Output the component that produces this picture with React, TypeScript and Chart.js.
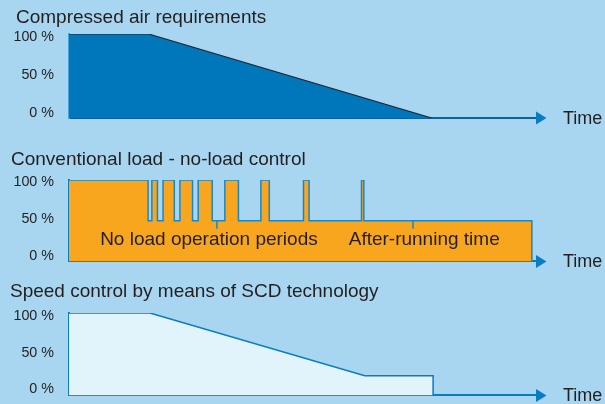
import React, { useEffect, useRef } from "react";
import { Chart, registerables } from "chart.js";

Chart.register(...registerables);

// ---- data (time in arbitrary units 0..100, load in %) ----
const yTicks = [0, 50, 100];

const airTimes = [0, 17, 77.5];
const airLoad = [100, 100, 0];

const convTimes = [0, 16.9, 17.7, 18.9, 20.1, 22.5, 23.7, 26.4, 27.6, 30.6, 33.3, 36.2, 41.0, 42.8, 50.1, 51.3, 62.5, 63.0, 98.9];
const convLoad = [100, 50, 100, 50, 100, 50, 100, 50, 100, 50, 100, 50, 100, 50, 100, 50, 100, 50, 0];
const convMarkTimes = [31.6, 73.5];
const convMarkLoad = [45, 45];
const convLabels = ["No load operation periods", "After-running time"];
const convLabelTimes = [29.9, 75.9];
const convLabelLoad = [27, 27];

const scdTimes = [0, 17.3, 63.2, 77.8, 77.8];
const scdLoad = [100, 100, 24, 24, 0];

const titles = [
  "Compressed air requirements",
  "Conventional load - no-load control",
  "Speed control by means of SCD technology",
];
const axisLabel = "Time";

const FONT = '"Liberation Sans", Arial, Helvetica, sans-serif';
const TEXT = "#231f20";
const BG = "#a8d5f0";

function pts(xs: number[], ys: number[]) {
  return xs.map((x, i) => ({ x, y: ys[i] }));
}

type PanelCfg = {
  title: string;
  titleX: number;
  titleY: number;
  padTop: number;
  padBottom: number;
  labelMin: number;
  labelMax: number;
  datasets: any[];
  xBorder: string;
  yBorder: string;
  arrow: string;
  labels?: { text: string; x: number; y: number }[];
};

function Panel({ cfg, top, height }: { cfg: PanelCfg; top: number; height: number }) {
  const ref = useRef<HTMLCanvasElement>(null);
  useEffect(() => {
    const plugin = {
      id: "decor",
      afterDraw(chart: any) {
        const ctx = chart.ctx;
        const area = chart.chartArea;
        ctx.save();
        // title
        ctx.fillStyle = TEXT;
        ctx.font = `19px ${FONT}`;
        ctx.textBaseline = "middle";
        ctx.textAlign = "left";
        ctx.fillText(cfg.title, cfg.titleX, cfg.titleY);
        // arrow
        const yb = area.bottom;
        ctx.fillStyle = cfg.arrow;
        ctx.beginPath();
        ctx.moveTo(area.right - 1, yb - 6.5);
        ctx.lineTo(area.right + 9.5, yb);
        ctx.lineTo(area.right - 1, yb + 6.5);
        ctx.closePath();
        ctx.fill();
        // Time
        ctx.fillStyle = TEXT;
        ctx.font = `18px ${FONT}`;
        ctx.fillText(axisLabel, area.right + 26, yb + 1);
        // in-chart labels
        if (cfg.labels) {
          const xs = chart.scales.x;
          const ys = chart.scales.y;
          ctx.textAlign = "center";
          ctx.font = `19px ${FONT}`;
          for (const l of cfg.labels) {
            ctx.fillText(l.text, xs.getPixelForValue(l.x), ys.getPixelForValue(l.y));
          }
        }
        ctx.restore();
      },
    };
    const chart = new Chart(ref.current as HTMLCanvasElement, {
      type: "line",
      data: { datasets: cfg.datasets },
      options: {
        animation: false,
        responsive: true,
        maintainAspectRatio: false,
        layout: { padding: { left: 0, right: 68, top: cfg.padTop, bottom: cfg.padBottom } },
        plugins: { legend: { display: false }, tooltip: { enabled: false }, title: { display: false } },
        scales: {
          x: {
            type: "linear",
            min: 0,
            max: 100,
            z: 1,
            ticks: { display: false },
            grid: { display: false, drawTicks: false },
            border: { display: true, color: cfg.xBorder, width: 2 },
            afterFit: (s: any) => { s.height = 0; },
          },
          y: {
            min: 0,
            max: 100,
            z: 1,
            position: "left",
            ticks: { display: false, padding: 0 },
            grid: { display: false, drawTicks: false },
            border: { display: true, color: cfg.yBorder, width: 2 },
            afterFit: (s: any) => { s.width = 0; },
          },
          yLabels: {
            min: cfg.labelMin,
            max: cfg.labelMax,
            position: "left",
            afterBuildTicks: (s: any) => { s.ticks = yTicks.map((v) => ({ value: v })); },
            ticks: {
              callback: (v: any) => `${v} %`,
              color: TEXT,
              font: { family: FONT, size: 14.3 },
              padding: 0,
            },
            grid: {
              display: true,
              drawOnChartArea: false,
              drawTicks: true,
              tickLength: 15,
              color: "rgba(0,0,0,0)",
            },
            border: { display: false },
            afterFit: (s: any) => { s.width = 69; },
          },
        },
      },
      plugins: [plugin],
    } as any);
    return () => chart.destroy();
  }, []);
  return (
    <div style={{ position: "absolute", left: 0, top, width: 605, height }}>
      <canvas ref={ref} />
    </div>
  );
}

export default function App() {
  const p1: PanelCfg = {
    title: titles[0],
    titleX: 16,
    titleY: 18,
    padTop: 34,
    padBottom: 16,
    labelMin: -6.6,
    labelMax: 104.7,
    xBorder: "#0b64a2",
    yBorder: "#4aa3dc",
    arrow: "#0a7cc4",
    datasets: [
      {
        data: pts(airTimes, airLoad),
        borderColor: "#1d2733",
        borderWidth: 1.2,
        backgroundColor: "#0077bb",
        fill: "origin",
        pointRadius: 0,
        tension: 0,
      },
    ],
  };
  const p2: PanelCfg = {
    title: titles[1],
    titleX: 11,
    titleY: 26,
    padTop: 46,
    padBottom: 7,
    labelMin: -7.7,
    labelMax: 102.3,
    xBorder: "#0a7cc4",
    yBorder: "#0a7cc4",
    arrow: "#0a7cc4",
    labels: convLabels.map((t, i) => ({ text: t, x: convLabelTimes[i], y: convLabelLoad[i] })),
    datasets: [
      {
        type: "scatter",
        data: pts(convMarkTimes, convMarkLoad),
        pointStyle: "line",
        rotation: 90,
        radius: 4,
        borderColor: "#1a86c8",
        borderWidth: 1.5,
        showLine: false,
      },
      {
        data: pts(convTimes, convLoad),
        stepped: "before",
        borderColor: "#1a86c8",
        borderWidth: 1.5,
        backgroundColor: "#f7a61e",
        fill: "origin",
        pointRadius: 0,
      },
    ],
  };
  const p3: PanelCfg = {
    title: titles[2],
    titleX: 10,
    titleY: 22,
    padTop: 43,
    padBottom: 7,
    labelMin: -8.5,
    labelMax: 104.5,
    xBorder: "#0a7cc4",
    yBorder: "#0a7cc4",
    arrow: "#0a7cc4",
    datasets: [
      {
        data: pts(scdTimes, scdLoad),
        borderColor: "#0a7cc4",
        borderWidth: 1.5,
        backgroundColor: "#e1f3fb",
        fill: "origin",
        pointRadius: 0,
        tension: 0,
      },
    ],
  };
  return (
    <div style={{ position: "fixed", left: 0, top: 0, width: 605, height: 404, background: BG, overflow: "hidden" }}>
      <Panel cfg={p1} top={0} height={134} />
      <Panel cfg={p2} top={134} height={136} />
      <Panel cfg={p3} top={270} height={134} />
    </div>
  );
}
